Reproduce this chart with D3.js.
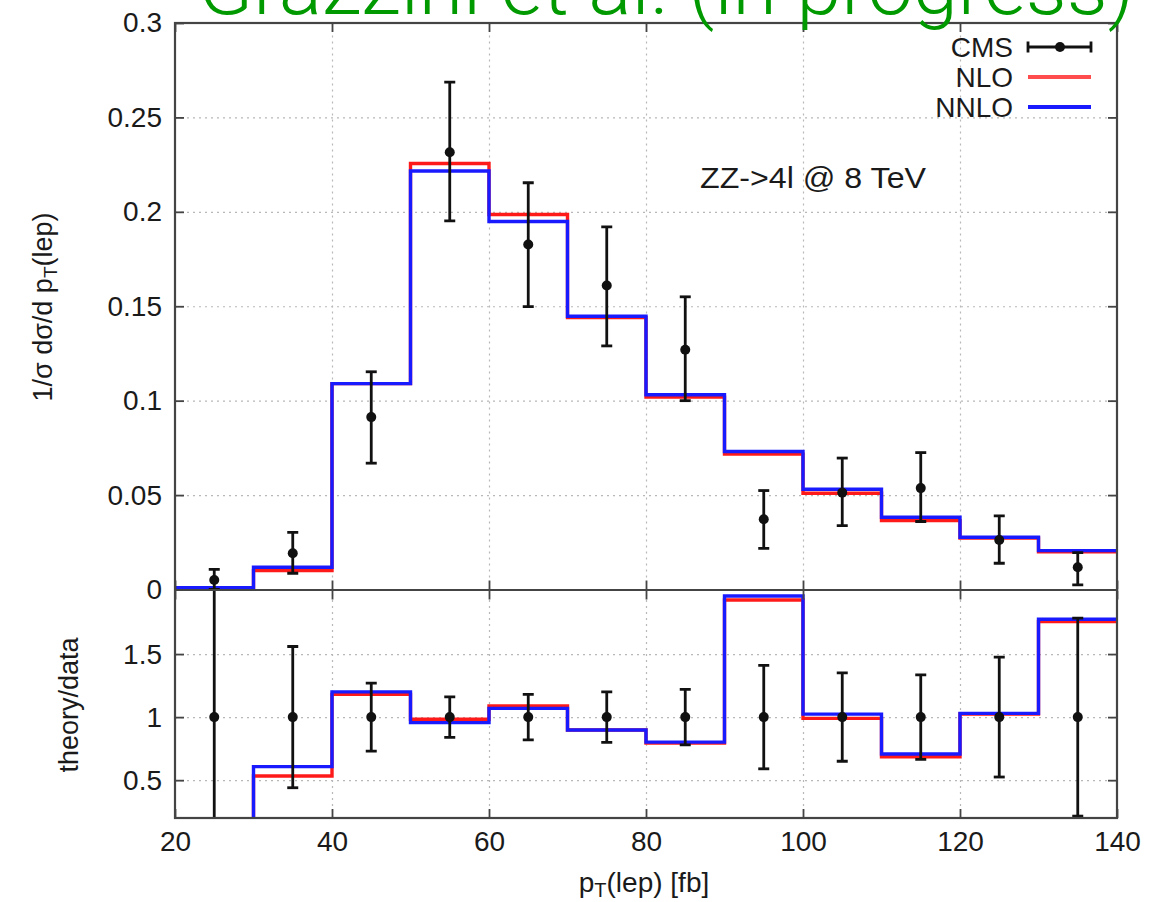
<!DOCTYPE html>
<html>
<head>
<meta charset="utf-8">
<script src="https://cdn.jsdelivr.net/npm/d3@7"></script>
<style>
  html, body { margin: 0; padding: 0; background: #fff; }
  svg { display: block; }
  text { font-family: "Liberation Sans", Arial, Helvetica, sans-serif; fill: #1a1a1a; }
</style>
</head>
<body>
<svg id="chart" width="1173" height="902"></svg>
<script>
// ---------- data ----------
const binEdges = [20, 30, 40, 50, 60, 70, 80, 90, 100, 110, 120, 130, 140];
const binCenters = [25, 35, 45, 55, 65, 75, 85, 95, 105, 115, 125, 135];

// upper panel: normalized distribution
const nloTop  = [0.001, 0.010, 0.109, 0.2256, 0.1986, 0.1440, 0.1019, 0.0717, 0.0510, 0.0365, 0.0272, 0.0199];
const nnloTop = [0.001, 0.0118, 0.109, 0.2216, 0.1949, 0.1447, 0.1031, 0.0731, 0.0531, 0.0383, 0.0277, 0.0206];
const cmsVal  = [0.005, 0.0192, 0.0913, 0.2316, 0.1827, 0.161, 0.127, 0.0372, 0.0513, 0.0537, 0.0262, 0.0118];
const cmsLo   = [0.000, 0.0086, 0.0669, 0.1952, 0.1498, 0.129, 0.100, 0.0218, 0.0338, 0.0360, 0.0139, 0.0024];
const cmsHi   = [0.0107, 0.0303, 0.1153, 0.2687, 0.2154, 0.192, 0.155, 0.0524, 0.0696, 0.0725, 0.039, 0.0195];

// lower panel: theory / data
const nloRatio  = [0.15, 0.533, 1.18, 0.983, 1.088, 0.898, 0.795, 1.929, 0.99, 0.686, 1.025, 1.757];
const nnloRatio = [0.15, 0.607, 1.20, 0.956, 1.069, 0.898, 0.802, 1.960, 1.024, 0.708, 1.030, 1.776];
const ratioVal  = [1, 1, 1, 1, 1, 1, 1, 1, 1, 1, 1, 1];
const ratioErr  = [1.2, 0.56, 0.27, 0.16, 0.18, 0.20, 0.22, 0.41, 0.35, 0.335, 0.475, 0.785];

const xTicks = [20, 40, 60, 80, 100, 120, 140];
const yTopTicks = [0, 0.05, 0.1, 0.15, 0.2, 0.25, 0.3];
const yTopLabels = ["0", "0.05", "0.1", "0.15", "0.2", "0.25", "0.3"];
const yBotTicks = [0.5, 1, 1.5];
const yBotLabels = ["0.5", "1", "1.5"];
const legendLabels = ["CMS", "NLO", "NNLO"];
const titleText = "Grazzini et al. (in progress)";
const processText = "ZZ->4l @ 8 TeV";

// ---------- layout ----------
const L = 175, R = 1117, T = 23, MID = 589.5, B = 818;
const svg = d3.select("#chart");
const x = d3.scaleLinear().domain([20, 140]).range([L, R]);
const yTop = d3.scaleLinear().domain([0, 0.3]).range([MID, T]);
const yBot = d3.scaleLinear().domain([0.2, 2.0]).range([B, MID + 1.5]);

const RED = "#ff1a1a", BLUE = "#1a1aff", FRAME = "#444";

const defs = svg.append("defs");
defs.append("clipPath").attr("id", "clipTop").append("rect")
  .attr("x", L).attr("y", T).attr("width", R - L).attr("height", MID - T);
defs.append("clipPath").attr("id", "clipBot").append("rect")
  .attr("x", L).attr("y", MID).attr("width", R - L).attr("height", B - MID);

// ---------- grids ----------
function grid(g, yScale, yTicks, y0, y1) {
  const gx = g.append("g").attr("transform", `translate(0,${y1})`)
    .call(d3.axisBottom(x).tickValues(xTicks.slice(1, -1)).tickSize(-(y1 - y0)).tickFormat(""));
  const gy = g.append("g").attr("transform", `translate(${L},0)`)
    .call(d3.axisLeft(yScale).tickValues(yTicks).tickSize(-(R - L)).tickFormat(""));
  [gx, gy].forEach(a => {
    a.select(".domain").remove();
    a.selectAll("line").attr("stroke", "#b8b8b8").attr("stroke-width", 1.2).attr("stroke-dasharray", "2,4");
  });
}
grid(svg.append("g"), yTop, yTopTicks.slice(1, -1), T, MID);
grid(svg.append("g"), yBot, yBotTicks, MID, B);

// ---------- histograms ----------
function stepData(vals) {
  return binEdges.map((e, i) => [e, vals[Math.min(i, vals.length - 1)]]);
}
const lineTop = d3.line().x(d => x(d[0])).y(d => yTop(d[1])).curve(d3.curveStepAfter);
const lineBot = d3.line().x(d => x(d[0])).y(d => yBot(d[1])).curve(d3.curveStepAfter);

const gTop = svg.append("g").attr("clip-path", "url(#clipTop)");
const gBot = svg.append("g").attr("clip-path", "url(#clipBot)");

[[nloTop, RED], [nnloTop, BLUE]].forEach(([v, c]) => {
  gTop.append("path").attr("d", lineTop(stepData(v))).attr("fill", "none")
    .attr("stroke", c).attr("stroke-width", 3.4);
});
[[nloRatio, RED], [nnloRatio, BLUE]].forEach(([v, c]) => {
  gBot.append("path").attr("d", lineBot(stepData(v))).attr("fill", "none")
    .attr("stroke", c).attr("stroke-width", 3.4);
});

// ---------- data points ----------
function errBars(g, yScale, vals, lo, hi) {
  const cap = 5.5;
  const pts = g.selectAll(null).data(binCenters.map((c, i) => ({ c, v: vals[i], lo: lo[i], hi: hi[i] })))
    .enter().append("g");
  pts.append("line").attr("x1", d => x(d.c)).attr("x2", d => x(d.c))
    .attr("y1", d => yScale(d.lo)).attr("y2", d => yScale(d.hi))
    .attr("stroke", "#111").attr("stroke-width", 2.8);
  ["lo", "hi"].forEach(k => {
    pts.append("line").attr("x1", d => x(d.c) - cap).attr("x2", d => x(d.c) + cap)
      .attr("y1", d => yScale(d[k])).attr("y2", d => yScale(d[k]))
      .attr("stroke", "#111").attr("stroke-width", 2.8);
  });
  pts.append("circle").attr("cx", d => x(d.c)).attr("cy", d => yScale(d.v))
    .attr("r", 5).attr("fill", "#111");
}
errBars(gTop, yTop, cmsVal, cmsLo, cmsHi);
errBars(gBot, yBot, ratioVal, ratioVal.map((v, i) => v - ratioErr[i]), ratioVal.map((v, i) => v + ratioErr[i]));

// ---------- axes ----------
function styleAxis(a) {
  a.select(".domain").remove();
  a.selectAll(".tick line").attr("stroke", FRAME).attr("stroke-width", 1.8);
  a.selectAll("text").style("font-size", "28px").attr("fill", "#1a1a1a");
}
const TK = 9;
// upper panel
styleAxis(svg.append("g").attr("transform", `translate(${L},0)`)
  .call(d3.axisLeft(yTop).tickValues(yTopTicks).tickSize(-TK).tickPadding(13)
    .tickFormat((d, i) => yTopLabels[i])));
styleAxis(svg.append("g").attr("transform", `translate(${R},0)`)
  .call(d3.axisRight(yTop).tickValues(yTopTicks).tickSize(-TK).tickFormat("")));
styleAxis(svg.append("g").attr("transform", `translate(0,${T})`)
  .call(d3.axisTop(x).tickValues(xTicks).tickSize(-TK).tickFormat("")));
styleAxis(svg.append("g").attr("transform", `translate(0,${MID})`)
  .call(d3.axisBottom(x).tickValues(xTicks).tickSize(-TK).tickFormat("")));
// lower panel
styleAxis(svg.append("g").attr("transform", `translate(0,${MID + 1})`)
  .call(d3.axisTop(x).tickValues(xTicks).tickSize(-TK).tickFormat("")));
styleAxis(svg.append("g").attr("transform", `translate(0,${B})`)
  .call(d3.axisBottom(x).tickValues(xTicks).tickSize(-TK).tickPadding(13)));
styleAxis(svg.append("g").attr("transform", `translate(${L},0)`)
  .call(d3.axisLeft(yBot).tickValues(yBotTicks).tickSize(-TK).tickPadding(13)
    .tickFormat((d, i) => yBotLabels[i])));
styleAxis(svg.append("g").attr("transform", `translate(${R},0)`)
  .call(d3.axisRight(yBot).tickValues(yBotTicks).tickSize(-TK).tickFormat("")));

// frames
svg.append("rect").attr("x", L).attr("y", T).attr("width", R - L).attr("height", B - T)
  .attr("fill", "none").attr("stroke", FRAME).attr("stroke-width", 2.2);
svg.append("line").attr("x1", L).attr("x2", R).attr("y1", MID + 0.5).attr("y2", MID + 0.5)
  .attr("stroke", FRAME).attr("stroke-width", 2.2);

// ---------- labels ----------
const yl = svg.append("text").attr("transform", "translate(52,307) rotate(-90)")
  .attr("text-anchor", "middle").style("font-size", "27px");
yl.append("tspan").text("1/σ dσ/d p");
yl.append("tspan").attr("baseline-shift", "-25%").style("font-size", "19px").text("T");
yl.append("tspan").text("(lep)");

svg.append("text").attr("transform", "translate(78,705) rotate(-90)")
  .attr("text-anchor", "middle").style("font-size", "27px").text("theory/data");

const xl = svg.append("text").attr("x", 644).attr("y", 892)
  .attr("text-anchor", "middle").style("font-size", "28px");
xl.append("tspan").text("p");
xl.append("tspan").attr("baseline-shift", "-25%").style("font-size", "20px").text("T");
xl.append("tspan").text("(lep) [fb]");

svg.append("text").attr("x", 700).attr("y", 188).style("font-size", "29px")
  .attr("textLength", 226).attr("lengthAdjust", "spacingAndGlyphs").text(processText);

// ---------- legend ----------
const legY = [47, 77, 107];
legendLabels.forEach((lab, i) => {
  svg.append("text").attr("x", 1013).attr("y", legY[i] + 10).attr("text-anchor", "end")
    .style("font-size", "28px").text(lab);
});
// CMS sample
const lg = svg.append("g").attr("stroke", "#111").attr("stroke-width", 2.8);
lg.append("line").attr("x1", 1028).attr("x2", 1091).attr("y1", legY[0]).attr("y2", legY[0]);
lg.append("line").attr("x1", 1028).attr("x2", 1028).attr("y1", legY[0] - 5.5).attr("y2", legY[0] + 5.5);
lg.append("line").attr("x1", 1091).attr("x2", 1091).attr("y1", legY[0] - 5.5).attr("y2", legY[0] + 5.5);
svg.append("circle").attr("cx", 1060).attr("cy", legY[0]).attr("r", 5).attr("fill", "#111");
svg.append("line").attr("x1", 1028).attr("x2", 1091).attr("y1", legY[1]).attr("y2", legY[1])
  .attr("stroke", "#ff4d4d").attr("stroke-width", 4);
svg.append("line").attr("x1", 1028).attr("x2", 1091).attr("y1", legY[2]).attr("y2", legY[2])
  .attr("stroke", BLUE).attr("stroke-width", 4);

// ---------- title ----------
svg.append("text").attr("x", 198).attr("y", 14)
  .style("font-family", "Roboto, 'Liberation Sans', sans-serif").style("font-weight", "300")
  .style("font-size", "78px").attr("fill", "#009a00").style("fill", "#009a00")
  .attr("textLength", 936).attr("lengthAdjust", "spacingAndGlyphs").text(titleText);
</script>
</body>
</html>
